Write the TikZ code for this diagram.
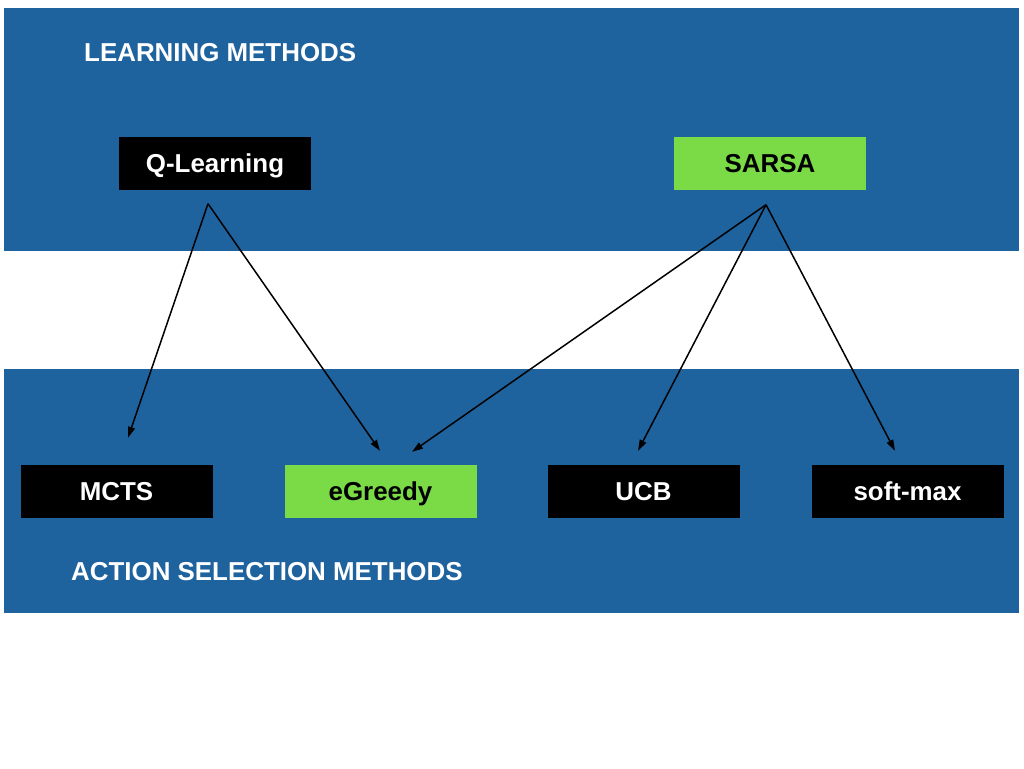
\documentclass[tikz,border=0pt]{standalone}
\usepackage{fontspec}
\setmainfont{Liberation Sans}
\usetikzlibrary{arrows.meta,calc}
\definecolor{bandblue}{RGB}{31,99,158}
\definecolor{boxgreen}{RGB}{122,219,70}
\begin{document}
\begin{tikzpicture}[x=1pt,y=-1pt,
  band/.style={fill=bandblue,draw=none},
  title/.style={anchor=west,inner sep=0pt,text=white,font=\fontsize{25.9}{30}\selectfont\bfseries,text height=18.5pt,text depth=0pt},
  method/.style={minimum width=192pt,minimum height=53pt,inner sep=0pt,
    font=\fontsize{25.9}{30}\selectfont\bfseries,text height=18.5pt,text depth=0pt},
  darkbox/.style={method,fill=black,text=white},
  greenbox/.style={method,fill=boxgreen,text=black},
  link/.style={line width=1.5pt,-{Triangle[length=11pt,width=7pt]}}]
\useasboundingbox (0,0) rectangle (1024,768);
\fill[white] (0,0) rectangle (1024,768);
% the two bands
\path[band] (4,8) rectangle (1019,251);
\path[band] (4,369) rectangle (1019,613);
\node[title] (lm) at (84,52) {LEARNING METHODS};
\node[title] (asm) at (71,571) {ACTION SELECTION METHODS};
% learning methods
\node[darkbox] (ql) at (215,163) {Q-Learning};
\node[greenbox] (sarsa) at (770,163) {SARSA};
% action selection methods
\node[darkbox] (mcts) at (116.5,491.5) {MCTS};
\node[greenbox] (egreedy) at (380.5,491.5) {eGreedy};
\node[darkbox] (ucb) at (643.5,491.5) {UCB};
\node[darkbox] (softmax) at (907.5,491.5) {soft-max};
% connector ends
\coordinate (qlout) at ($(ql.south)+(-7,14)$);
\coordinate (saout) at ($(sarsa.south)+(-4,15)$);
\coordinate (mctsin) at ($(mcts.north)+(11.5,-27)$);
\coordinate (egin1) at ($(egreedy.north)+(-0.5,-14)$);
\coordinate (egin2) at ($(egreedy.north)+(31.5,-13)$);
\coordinate (ucbin) at ($(ucb.north)+(-5.5,-14)$);
\coordinate (smin) at ($(softmax.north)+(-12.5,-14)$);
\draw[link] (qlout) -- (mctsin);
\draw[link] (qlout) -- (egin1);
\draw[link] (saout) -- (egin2);
\draw[link] (saout) -- (ucbin);
\draw[link] (saout) -- (smin);
\end{tikzpicture}
\end{document}
